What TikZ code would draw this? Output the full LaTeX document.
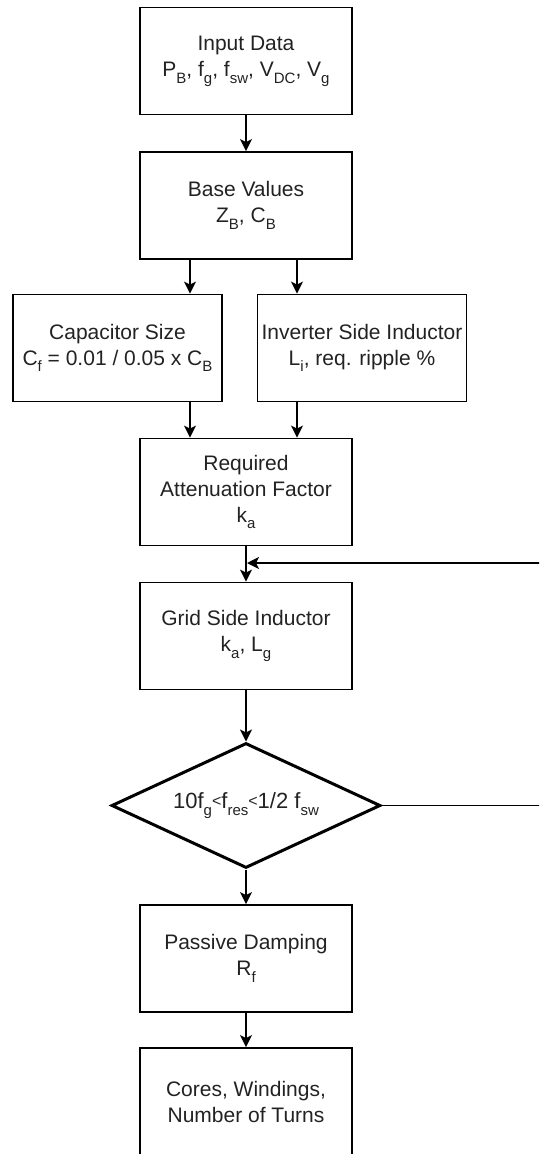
\documentclass[tikz,border=0pt]{standalone}
\usepackage{fontspec}
\setmainfont{Liberation Sans}
\usetikzlibrary{arrows.meta,shapes.geometric}
\definecolor{txt}{HTML}{222222}
\newcommand\sbx[1]{\raisebox{-0.32em}{\fontsize{15}{15}\selectfont #1}}
\newcommand\smlt{\raisebox{0.1em}{\fontsize{16}{16}\selectfont <}}
\tikzset{
  box/.style={draw, line width=1.8pt, minimum width=212pt, minimum height=107pt, align=center, inner sep=2pt, text=txt, font=\fontsize{21}{26}\selectfont},
  dec/.style={draw, diamond, line width=3pt, minimum width=269pt, minimum height=125pt, aspect=2.15, inner sep=0pt, text=txt, font=\fontsize{22}{26}\selectfont},
  arr/.style={line width=1.8pt, -{Stealth[length=12pt,width=12pt,inset=3pt]}},
  ln/.style={line width=1.8pt}
}
\begin{document}
\begin{tikzpicture}[x=1pt,y=-1pt]
\useasboundingbox (0,0) rectangle (539,1154);
\clip (0,0) rectangle (539,1154);
\node[box] (in) at (246,61) {Input Data\\P\sbx{B}, f\sbx{g}, f\sbx{sw}, V\sbx{DC}, V\sbx{g}};
\node[box] (base) at (246,205.5) {Base Values\\Z\sbx{B}, C\sbx{B}};
\node[box, minimum width=209pt] (cap) at (117.5,348) {Capacitor Size\\C\sbx{f} = 0.01 / 0.05 x C\sbx{B}};
\node[box, minimum width=209pt] (inv) at (362,348) {Inverter Side Inductor\\L\sbx{i}, req. ripple \%};
\node[box] (req) at (246,492) {Required\\Attenuation Factor\\k\sbx{a}};
\node[box] (grid) at (246,636) {Grid Side Inductor\\k\sbx{a}, L\sbx{g}};
\node[dec] (dia) at (246,805.5) {10f\sbx{g}\smlt f\sbx{res}\smlt 1/2 f\sbx{sw}};
\node[box] (pas) at (246,958.5) {Passive Damping\\R\sbx{f}};
\node[box] (core) at (246,1101.5) {Cores, Windings,\\Number of Turns};
\coordinate (xl) at (190,0);
\coordinate (xr) at (297,0);
\coordinate (fbA) at (580,805.5);
\coordinate (fbB) at (580,563);
\coordinate (fbC) at (247,563);
\draw[arr] (in) -- (base);
\draw[arr] (base.south -| xl) -- (cap.north -| xl);
\draw[arr] (base.south -| xr) -- (inv.north -| xr);
\draw[arr] (cap.south -| xl) -- (req.north -| xl);
\draw[arr] (inv.south -| xr) -- (req.north -| xr);
\draw[arr] (req) -- (grid);
\draw[arr] (grid) -- (dia);
\draw[arr] (dia) -- (pas);
\draw[arr] (pas) -- (core);
\draw[arr] (dia.east) -- (fbA) -- (fbB) -- (fbC);
\end{tikzpicture}
\end{document}
